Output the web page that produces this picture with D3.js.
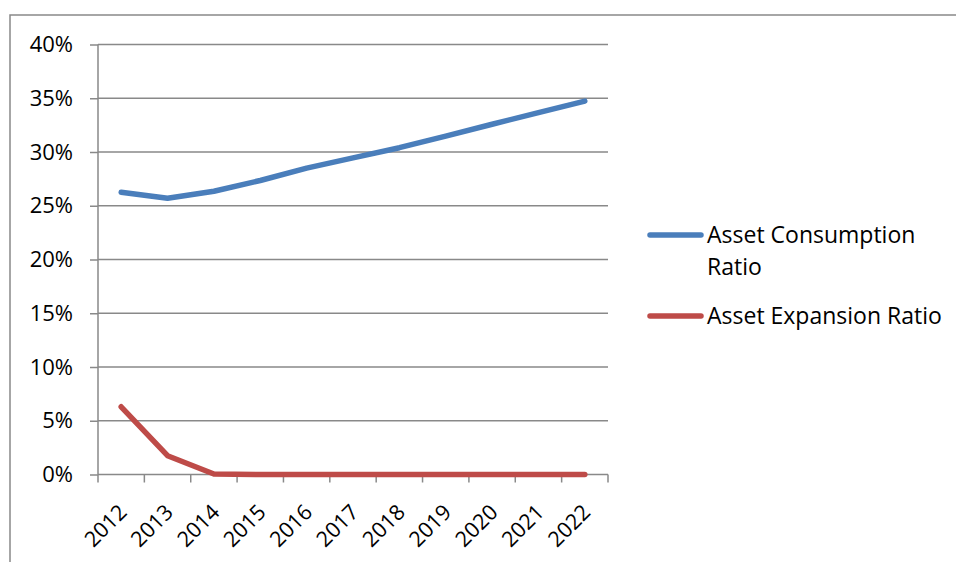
<!DOCTYPE html>
<html>
<head>
<meta charset="utf-8">
<script src="https://cdn.jsdelivr.net/npm/d3@7"></script>
<style>
  html, body { margin: 0; padding: 0; background: #fff; }
  svg { display: block; }
  text { font-family: "Open Sans", "Noto Sans", sans-serif; fill: #000; }
</style>
</head>
<body>
<svg id="chart" width="956" height="562"></svg>
<script>
// Categories (years) and series values (fractions)
const years = ["2012","2013","2014","2015","2016","2017","2018","2019","2020","2021","2022"];
const consumptionRatio = [0.2625, 0.257, 0.2635, 0.2735, 0.285, 0.2945, 0.304, 0.3148, 0.3258, 0.3367, 0.3474];
const expansionRatio   = [0.063, 0.0175, 0.0005, 0, 0, 0, 0, 0, 0, 0, 0];
const yTicks = [0, 0.05, 0.10, 0.15, 0.20, 0.25, 0.30, 0.35, 0.40];
const seriesNames = ["Asset Consumption Ratio", "Asset Expansion Ratio"];
const seriesColors = ["#4a7ebb", "#be4b48"];

const svg = d3.select("#chart");
const plot = { left: 98, right: 608, top: 44.5, bottom: 474.5 };
const gridColor = "#898989";

// Outer chart frame
svg.append("path")
  .attr("d", "M10,562 L10,15 L956,15")
  .attr("fill", "none")
  .attr("stroke", gridColor)
  .attr("stroke-width", 1.5);

const x = d3.scaleBand().domain(years).range([plot.left, plot.right]).padding(0);
const y = d3.scaleLinear().domain([0, 0.4]).range([plot.bottom, plot.top]);
const cx = d => x(d) + x.bandwidth() / 2;

// Horizontal gridlines
svg.append("g").selectAll("line")
  .data(yTicks.filter(t => t > 0))
  .join("line")
  .attr("x1", plot.left).attr("x2", plot.right)
  .attr("y1", d => y(d)).attr("y2", d => y(d))
  .attr("stroke", gridColor).attr("stroke-width", 1.5);

// Y axis
const yAxis = svg.append("g")
  .attr("transform", `translate(${plot.left},0)`)
  .call(d3.axisLeft(y).tickValues(yTicks).tickFormat(d3.format(".0%")).tickSize(8).tickPadding(17));
yAxis.select(".domain").attr("stroke", gridColor).attr("stroke-width", 1.5).attr("d", `M0,${plot.top}V${plot.bottom}`);
yAxis.selectAll(".tick line").attr("stroke", gridColor).attr("stroke-width", 1.5);
yAxis.selectAll(".tick text").attr("font-size", 22).attr("font-family", "Open Sans").attr("fill", "#000");

// X axis baseline and category boundary ticks
const xg = svg.append("g");
xg.append("line")
  .attr("x1", plot.left).attr("x2", plot.right)
  .attr("y1", plot.bottom).attr("y2", plot.bottom)
  .attr("stroke", gridColor).attr("stroke-width", 1.5);
xg.selectAll("line.tick")
  .data(years.map(d => x(d)).concat([plot.right]))
  .join("line")
  .attr("class", "tick")
  .attr("x1", d => d).attr("x2", d => d)
  .attr("y1", plot.bottom).attr("y2", plot.bottom + 8)
  .attr("stroke", gridColor).attr("stroke-width", 1.5);

// Rotated year labels
xg.selectAll("text")
  .data(years)
  .join("text")
  .attr("text-anchor", "end")
  .attr("font-size", 21.5)
  .attr("transform", d => `translate(${cx(d) + 7},${plot.bottom + 39}) rotate(-45)`)
  .text(d => d);

// Series lines
const line = d3.line().x((d, i) => cx(years[i])).y(d => y(d));
[consumptionRatio, expansionRatio].forEach((vals, k) => {
  svg.append("path")
    .datum(vals)
    .attr("d", line)
    .attr("fill", "none")
    .attr("stroke", seriesColors[k])
    .attr("stroke-width", 5.5)
    .attr("stroke-linecap", "round")
    .attr("stroke-linejoin", "round");
});

// Legend
const legend = svg.append("g");
const legendRows = [
  { name: seriesNames[0], lines: ["Asset Consumption", "Ratio"], y: 235, color: seriesColors[0] },
  { name: seriesNames[1], lines: ["Asset Expansion Ratio"], y: 316, color: seriesColors[1] }
];
legendRows.forEach(r => {
  legend.append("line")
    .attr("x1", 650).attr("x2", 701)
    .attr("y1", r.y).attr("y2", r.y)
    .attr("stroke", r.color).attr("stroke-width", 5.5)
    .attr("stroke-linecap", "round");
  const t = legend.append("text")
    .attr("x", 707)
    .attr("y", r.y)
    .attr("font-size", 23);
  r.lines.forEach((s, i) => {
    t.append("tspan")
      .attr("x", 707)
      .attr("dy", i === 0 ? "0.36em" : 32)
      .text(s);
  });
});
</script>
</body>
</html>
